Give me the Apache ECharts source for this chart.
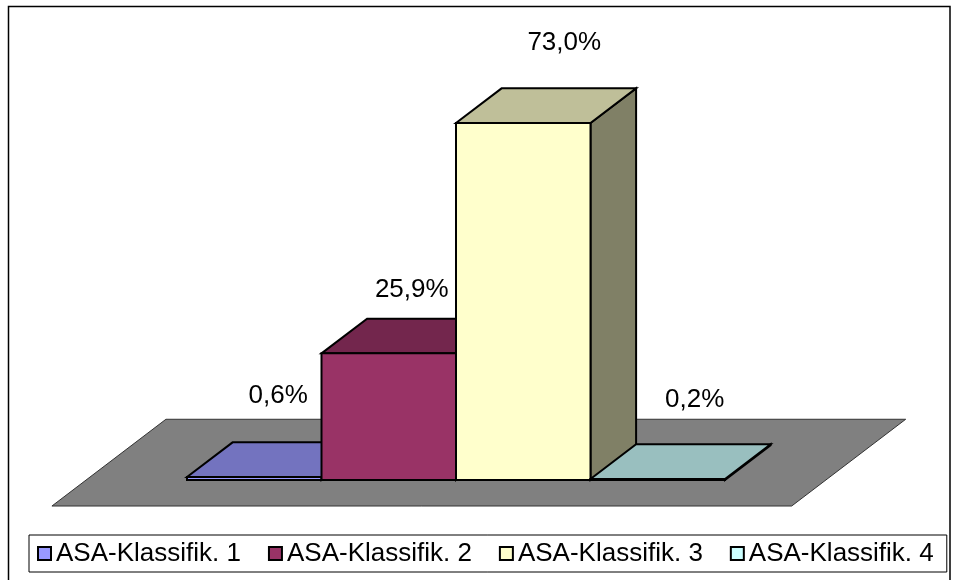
<!DOCTYPE html>
<html>
<head>
<meta charset="utf-8">
<script src="https://cdn.jsdelivr.net/npm/echarts@6/dist/echarts.min.js"></script>
<style>
  html, body { margin: 0; padding: 0; background: #fff; }
  #chart { width: 958px; height: 580px; }
</style>
</head>
<body>
<div id="chart"></div>
<script>
// ASA-Klassifikation, Anteile in Prozent
var seriesNames = ['ASA-Klassifik. 1', 'ASA-Klassifik. 2', 'ASA-Klassifik. 3', 'ASA-Klassifik. 4'];
var seriesValues = [0.6, 25.9, 73.0, 0.2];
var seriesColors = ['#9999FF', '#993366', '#FFFFCC', '#CCFFFF'];

// Tiefe der 3D-Saeulen in Pixel
var DX = 45.6, DY = 34.7;
// Lage der Beschriftung relativ zur Saeule (Stil)
var labelShift = [[24, -47], [23, -29], [41, -46], [37, -44]];
var FONT = '26px "Liberation Sans", Arial, sans-serif';

function shade(hex, f) {
  var n = parseInt(hex.slice(1), 16);
  var r = Math.round(((n >> 16) & 255) * f);
  var g = Math.round(((n >> 8) & 255) * f);
  var b = Math.round((n & 255) * f);
  return 'rgb(' + r + ',' + g + ',' + b + ')';
}

function fmt(v) { return v.toFixed(1).replace('.', ',') + '%'; }

function barRenderer(idx) {
  return function (params, api) {
    var x0 = api.value(0), v = api.value(1);
    var bl = api.coord([x0, 0]);
    var tr = api.coord([x0 + 1, v]);
    var left = bl[0], bottom = bl[1], right = tr[0], top = tr[1];
    var base = seriesColors[idx];
    var edge = { stroke: '#000', lineWidth: 2, lineJoin: 'miter' };
    var side = {
      type: 'polygon',
      shape: { points: [[right, top], [right + DX, top - DY], [right + DX, bottom - DY], [right, bottom]] },
      style: Object.assign({ fill: shade(base, 0.5) }, edge)
    };
    var cap = {
      type: 'polygon',
      shape: { points: [[left, top], [left + DX, top - DY], [right + DX, top - DY], [right, top]] },
      style: Object.assign({ fill: shade(base, 0.75) }, edge)
    };
    var front = {
      type: 'rect',
      shape: { x: left, y: top, width: right - left, height: bottom - top },
      style: Object.assign({ fill: base }, edge)
    };
    var sh = labelShift[idx];
    var label = {
      type: 'text',
      style: {
        text: fmt(v), x: (left + right) / 2 + sh[0], y: top - DY + sh[1],
        fill: '#000', font: FONT, align: 'center', verticalAlign: 'middle'
      }
    };
    return { type: 'group', children: [side, cap, front, label] };
  };
}

// Boden: Spaltbreite/Abstand 150 %
var floorSeries = {
  type: 'custom',
  name: 'floor',
  clip: false,
  silent: true,
  data: [[0]],
  renderItem: function (params, api) {
    var x1 = -0.75, x2 = seriesValues.length + 0.75, z1 = -0.75, z2 = 1.75;
    function p(x, z) {
      var c = api.coord([x, 0]);
      return [c[0] + z * DX, c[1] - z * DY];
    }
    return {
      type: 'polygon',
      shape: { points: [p(x1, z1), p(x1, z2), p(x2, z2), p(x2, z1)] },
      style: { fill: '#808080', stroke: '#333', lineWidth: 1 }
    };
  }
};

var series = [floorSeries];
seriesNames.forEach(function (name, i) {
  series.push({
    type: 'custom',
    name: name,
    clip: false,
    itemStyle: { color: seriesColors[i] },
    data: [[i, seriesValues[i]]],
    renderItem: barRenderer(i)
  });
});

var chart = echarts.init(document.getElementById('chart'), null, { renderer: 'canvas' });
chart.setOption({
  animation: false,
  backgroundColor: '#fff',
  grid: { left: 187, right: 233, top: 88.8, bottom: 100 },
  xAxis: { type: 'value', min: 0, max: 4, show: false },
  yAxis: { type: 'value', min: 0, max: 80, show: false },
  legend: {
    data: seriesNames,
    left: 29, top: 535,
    padding: [3, 13, 3, 8],
    itemGap: 27,
    itemWidth: 13, itemHeight: 13,
    icon: 'rect',
    itemStyle: { borderColor: '#000', borderWidth: 2 },
    textStyle: { fontSize: 26, fontFamily: '"Liberation Sans", Arial, sans-serif', color: '#000', lineHeight: 31 },
    borderColor: '#000', borderWidth: 1,
    backgroundColor: '#fff'
  },
  graphic: [{
    type: 'rect', silent: true, z: -1,
    shape: { x: 8.5, y: 6.5, width: 941.5, height: 590 },
    style: { fill: 'none', stroke: '#000', lineWidth: 1.5 }
  }],
  series: series
});
</script>
</body>
</html>
